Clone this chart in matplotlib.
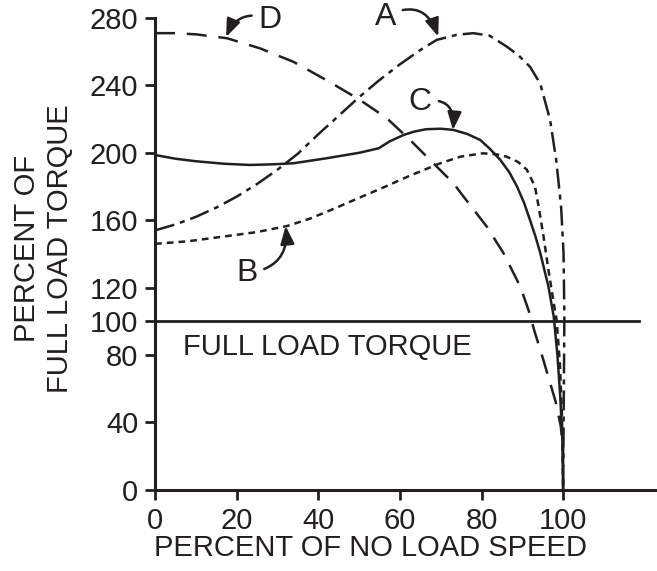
import matplotlib
matplotlib.use("Agg")
import matplotlib.pyplot as plt

plt.rcParams["font.family"] = ["Liberation Sans", "DejaVu Sans"]

# curve A (dash-dot)
a_x = [0, 5, 10, 15, 20, 25, 30, 35, 40, 45, 50, 55, 60, 65, 69, 73.9, 78, 82, 86.2,
       89, 91.9, 94.4, 96.8, 98.3, 99.5, 100.1, 100.3, 100]
a_y = [154, 157.5, 162, 167.5, 174, 181.5, 190, 199.5, 211, 222, 233, 243.2, 252.5,
       261, 267, 270, 271, 269.5, 263, 258, 251, 241, 219.5, 195.8, 168, 140.5, 102.8, 0]

# curve B (short dashes)
b_x = [0, 8, 16.7, 25, 32.4, 38, 44, 50.2, 56, 62.5, 69.9, 74.8, 80.3, 83.5, 86.2, 89,
       91.1, 93.1, 94, 95.2, 96.4, 97.7, 98.4, 99.2, 99.7, 100]
b_y = [146, 147.5, 150.3, 153, 156.6, 161, 167, 173.5, 179.5, 186.5, 193.8, 197.7,
       199.7, 199.2, 197.7, 194.5, 190, 180, 168, 150.3, 130.5, 110.8, 100.9, 75, 45, 0]

# curve C (solid)
c_x = [0, 5, 10, 17, 23.3, 29, 33.9, 42.1, 50.2, 54.8, 57.5, 60.9, 63.5, 66.4, 70,
       73.1, 76.5, 79.7, 82, 84.6, 86.8, 88.7, 90.4, 91.9, 93.2, 94.4, 96.4, 97.7,
       98.6, 99.3, 99.8, 100]
c_y = [198.7, 196.5, 195, 193.5, 192.8, 193.2, 193.8, 196.8, 200.1, 202.7, 206.8,
       210.6, 212.6, 214, 214.3, 213.6, 211.2, 207.6, 202.5, 195.8, 188.5, 180, 170.5,
       160, 150.5, 140.5, 120.6, 102.8, 80, 55, 30, 0]

# curve D (long dashes)
d_x = [0, 5, 10, 17.6, 25.7, 33.9, 42.1, 50.2, 56.8, 62.5, 68.2, 73.1, 75.6, 81.3,
       85.4, 89.5, 91.5, 93, 94.8, 96.5, 98.2, 99.4, 100, 100]
d_y = [271, 271, 270.3, 268, 262, 254, 243, 231.4, 220.5, 207.6, 193.8, 182, 174,
       156.2, 140.4, 120.6, 106.8, 94, 80, 66, 52, 38, 25, 0]

full_load = 100
x_ticks = [0, 20, 40, 60, 80, 100]
y_ticks = [0, 40, 80, 100, 120, 160, 200, 240, 280]

ink = "#231f20"
fig = plt.figure(figsize=(6.57, 5.71), dpi=100)
ax = fig.add_axes([0.236, 0.142, 0.764, 0.8265])

lw = 1.8
ax.plot(a_x, a_y, color=ink, lw=lw, ls=(0, (8, 2.4, 2, 2.4)))
ax.plot(b_x, b_y, color=ink, lw=lw, ls=(0, (2.7, 2)))
ax.plot(c_x, c_y, color=ink, lw=lw, ls="-")
ax.plot(d_x, d_y, color=ink, lw=lw, ls=(0, (8, 4.7)))
ax.plot([0, 118.6], [full_load, full_load], color=ink, lw=2.0)

ax.text(6.9, 85, "FULL LOAD TORQUE", fontsize=21, color=ink, va="center")

arrow = dict(arrowstyle="-|>,head_length=0.9,head_width=0.35", color=ink, lw=1.8,
             shrinkA=3, shrinkB=0, mutation_scale=12)
ax.annotate("A", xy=(69.4, 269), xytext=(56.4, 280.5), fontsize=23, color=ink,
            ha="center", va="center",
            arrowprops=dict(arrow, connectionstyle="arc3,rad=-0.6"))
ax.annotate("D", xy=(17.4, 268.7), xytext=(28.2, 279), fontsize=23, color=ink,
            ha="center", va="center",
            arrowprops=dict(arrow, connectionstyle="arc3,rad=0.5"))
ax.annotate("C", xy=(73, 213.5), xytext=(65, 230), fontsize=23, color=ink,
            ha="center", va="center",
            arrowprops=dict(arrow, connectionstyle="arc3,rad=-0.7"))
ax.annotate("B", xy=(32, 156.6), xytext=(22.5, 128.7), fontsize=23, color=ink,
            ha="center", va="center",
            arrowprops=dict(arrow, connectionstyle="arc3,rad=0.5"))

ax.set_xlim(0, 123)
ax.set_ylim(0, 280)
ax.set_xticks(x_ticks)
ax.set_yticks(y_ticks)
ax.tick_params(labelsize=21, length=7, width=2.0, pad=5, colors=ink)
for s in ["top", "right"]:
    ax.spines[s].set_visible(False)
for s in ["left", "bottom"]:
    ax.spines[s].set_linewidth(2.2)
    ax.spines[s].set_color(ink)

fig.text(0.5635, 0.04, "PERCENT OF NO LOAD SPEED", fontsize=21, color=ink,
         ha="center", va="center")
fig.text(0.066, 0.565, "PERCENT OF\nFULL LOAD TORQUE", fontsize=21, color=ink,
         ha="center", va="center", rotation=90, multialignment="center", linespacing=1.2)

fig.savefig("out.png", dpi=100)
